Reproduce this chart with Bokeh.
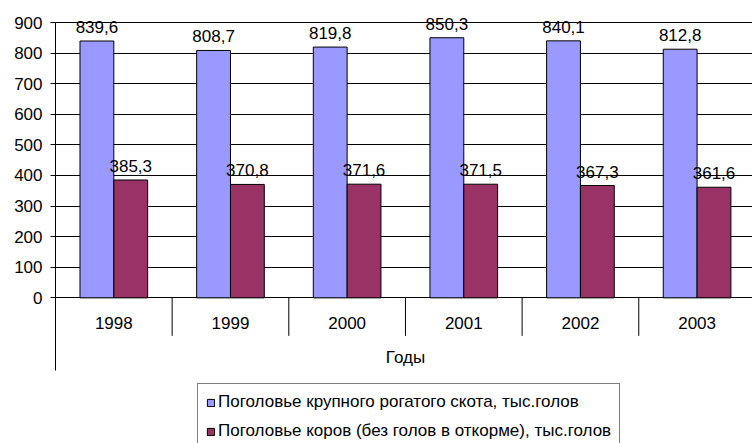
import math
from bokeh.plotting import figure
from bokeh.models import (ColumnDataSource, Range1d, FixedTicker, Legend, LegendItem)
from bokeh.core.properties import value
from bokeh.embed import file_html
from bokeh.resources import INLINE

# ---- data ----
years = ["1998", "1999", "2000", "2001", "2002", "2003"]
cattle = [839.6, 808.7, 819.8, 850.3, 840.1, 812.8]
cows = [385.3, 370.8, 371.6, 371.5, 367.3, 361.6]
y_ticks = [0, 100, 200, 300, 400, 500, 600, 700, 800, 900]
series_names = ["Поголовье крупного рогатого скота, тыс.голов",
                "Поголовье коров (без голов в откорме), тыс.голов"]
axis_title = "Годы"

FONT = "Liberation Sans"
BLUE = "#9999FF"
RED = "#993366"
BW = 0.29  # bar width (fraction of category)

n = len(years)
idx = list(range(n))
centers = [i + 0.5 for i in idx]
x_blue = [c - BW / 2 for c in centers]
x_red = [c + BW / 2 for c in centers]

def fmt(v):
    return f"{v:.1f}".replace(".", ",")

src_blue = ColumnDataSource(dict(x=x_blue, top=cattle, lab=[fmt(v) for v in cattle]))
src_red = ColumnDataSource(dict(x=x_red, top=cows, lab=[fmt(v) for v in cows]))
src_cat = ColumnDataSource(dict(x=centers, y=[0] * n, lab=years))
src_sep = ColumnDataSource(dict(x=[i + 1 for i in idx[:-1]], y=[0] * (n - 1)))
src_title = ColumnDataSource(dict(x=[n / 2], y=[0], lab=[axis_title]))

p = figure(width=752, height=443, output_backend="svg", toolbar_location=None,
           x_range=Range1d(0, 5.975), y_range=Range1d(-476, 972),
           min_border_left=55, min_border_right=0, min_border_top=0,
           min_border_bottom=0, x_axis_type=None)
p.outline_line_color = None
p.background_fill_color = "white"
p.border_fill_color = "white"

ticker = FixedTicker(ticks=y_ticks)
p.yaxis.ticker = ticker
p.yaxis.bounds = (-237, 900)
p.ygrid.ticker = ticker
p.ygrid.grid_line_color = "#000000"
p.ygrid.grid_line_width = 1
p.xgrid.visible = False
p.yaxis.axis_line_color = "#000000"
p.yaxis.major_tick_line_color = "#000000"
p.yaxis.major_tick_out = 5
p.yaxis.major_tick_in = 0
p.yaxis.minor_tick_line_color = None
p.yaxis.major_label_standoff = 8
p.yaxis.major_label_text_font = FONT
p.yaxis.major_label_text_font_size = "17px"
p.yaxis.major_label_text_color = "#000000"

r_blue = p.vbar(x="x", top="top", bottom=0, width=BW, source=src_blue,
                fill_color=BLUE, line_color="#000000", line_width=1)
r_red = p.vbar(x="x", top="top", bottom=0, width=BW, source=src_red,
               fill_color=RED, line_color="#000000", line_width=1)

# category separators below the axis
p.ray(x="x", y="y", source=src_sep, length=38, length_units="screen",
      angle=-math.pi / 2, line_color="#000000", line_width=1)

# data labels
for s in (src_blue, src_red):
    p.text(x="x", y="top", text="lab", source=s, text_align="center",
           text_baseline="alphabetic", y_offset=-14,
           text_font=value(FONT), text_font_size="17px", text_color="#000000")

# category labels
p.text(x="x", y="y", text="lab", source=src_cat, text_align="center",
       text_baseline="middle", y_offset=25,
       text_font=value(FONT), text_font_size="17px", text_color="#000000")
# axis title
p.text(x="x", y="y", text="lab", source=src_title, text_align="center",
       text_baseline="middle", y_offset=60,
       text_font=value(FONT), text_font_size="17px", text_color="#000000")

legend = Legend(items=[LegendItem(label=series_names[0], renderers=[r_blue]),
                       LegendItem(label=series_names[1], renderers=[r_red])],
                location=(142, -7), orientation="vertical",
                glyph_width=9, glyph_height=9, label_height=19, spacing=9,
                padding=8, margin=0, label_standoff=3,
                label_text_font=FONT, label_text_font_size="17px",
                label_text_color="#000000",
                border_line_color="#000000", border_line_width=1,
                background_fill_color="white", background_fill_alpha=1)
p.add_layout(legend, "center")

open("out.html", "w").write(file_html(p, INLINE))
